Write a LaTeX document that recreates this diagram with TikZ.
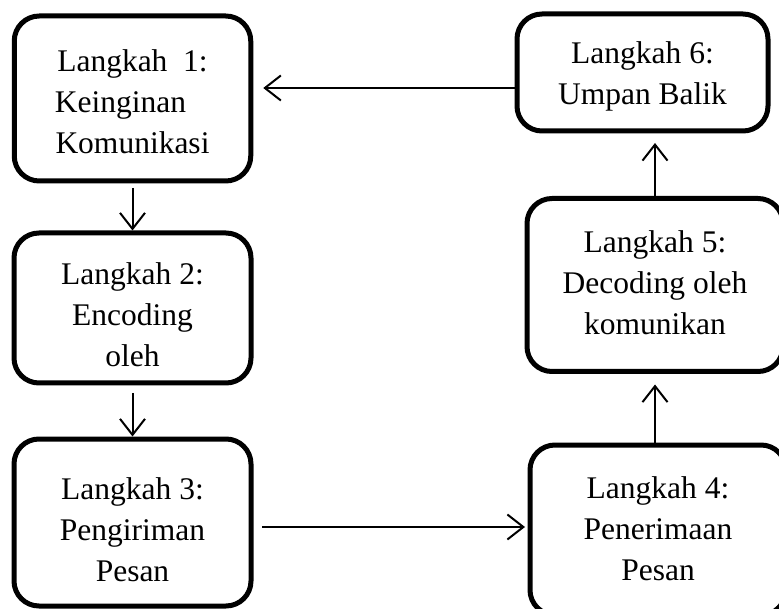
\documentclass[tikz,border=0pt]{standalone}
\usepackage{fontspec}
\setmainfont{Liberation Serif}
\usetikzlibrary{arrows.meta,calc}
\begin{document}
\begin{tikzpicture}[x=1pt,y=-1pt,
  stepbox/.style={draw,line width=5pt,rounded corners=25pt,align=center,inner sep=0pt,
    font=\fontsize{31.5}{41}\selectfont,text depth=0pt},
  arr/.style={line width=2pt,-{Straight Barb[length=16pt,width=25pt]}}]
\useasboundingbox (0,0) rectangle (779,609);
\clip (0,0) rectangle (779,609);
\node[stepbox,minimum width=236.5pt,minimum height=165pt,text height=111pt] (b1) at (132.5,98.5)
  {Langkah\ \ 1:\\Keinginan\hbox to 24pt{}\\Komunikasi};
\node[stepbox,minimum width=237pt,minimum height=150pt,text height=118pt] (b2) at (132.5,308)
  {Langkah 2:\\Encoding\\oleh};
\node[stepbox,minimum width=237pt,minimum height=167pt,text height=117pt] (b3) at (132.5,522.5)
  {Langkah 3:\\Pengiriman\\Pesan};
\node[stepbox,minimum width=256pt,minimum height=170pt,text height=100pt] (b4) at (658,530)
  {Langkah 4:\\Penerimaan\\Pesan};
\node[stepbox,minimum width=256pt,minimum height=173pt,text height=100pt] (b5) at (655,285)
  {Langkah 5:\\Decoding oleh\\komunikan};
\node[stepbox,minimum width=251pt,minimum height=117pt,text height=65pt] (b6) at (642.5,72.5)
  {Langkah 6:\\Umpan Balik};
\coordinate (a61) at ($(b6.west)+(0,15.5)$);
\draw[arr,shorten >=10pt] (a61) -- (a61 -| b1.east);
\draw[arr,shorten <=4.5pt] (b1.south) -- (b2.north);
\draw[arr,shorten <=7.5pt] (b2.south) -- (b3.north);
\coordinate (a34) at ($(b3.east)+(0,4.5)$);
\draw[arr,shorten <=8.5pt,shorten >=2.5pt] (a34) -- (a34 -| b4.west);
\draw[arr,shorten >=10.5pt] (b4.north -| b5.south) -- (b5.south);
\draw[arr,shorten >=9.5pt] (b5.north) -- (b5.north |- b6.south);
\end{tikzpicture}
\end{document}
